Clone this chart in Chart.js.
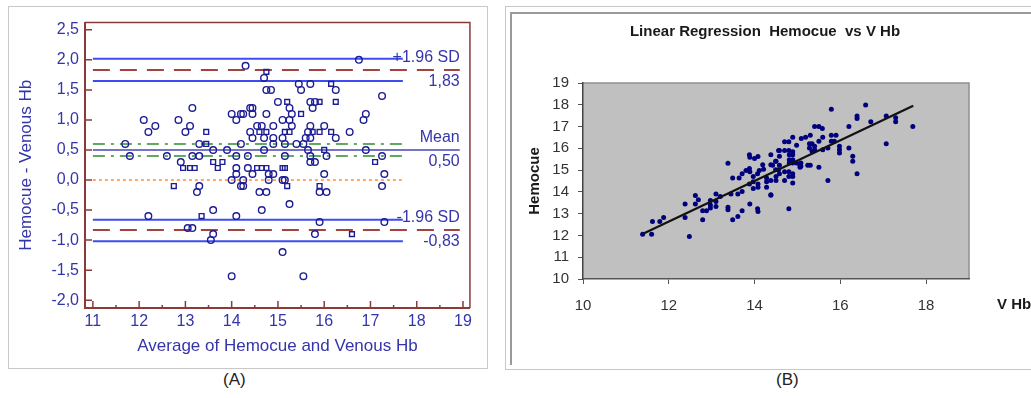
<!DOCTYPE html>
<html>
<head>
<meta charset="utf-8">
<script src="https://cdn.jsdelivr.net/npm/chart.js@4.4.0/dist/chart.umd.min.js"></script>
<style>
body{margin:0;background:#fff;width:1031px;height:398px;overflow:hidden;position:relative;font-family:"Liberation Sans",Arial,sans-serif;}
#boxA{position:absolute;left:8px;top:6px;width:478px;height:361px;border:1px solid #c8c8c8;}
#boxB{position:absolute;left:505px;top:6px;width:560px;height:362px;border:1px solid #c8c8c8;}
#innerB{position:absolute;left:510px;top:12px;width:560px;height:351px;border-left:2px solid #9a9a9a;border-top:2px solid #9a9a9a;}
#wrapA{position:absolute;left:8px;top:7px;}
#wrapB{position:absolute;left:500px;top:14px;}
.cap{position:absolute;top:370px;font-size:17px;color:#222;}
</style>
</head>
<body>
<div id="boxA"></div>
<div id="boxB"></div>
<div id="innerB"></div>
<div id="wrapA"><canvas id="chart-a" width="468" height="361"></canvas></div>
<div id="wrapB"><canvas id="chart-b" width="531" height="348"></canvas></div>
<div class="cap" style="left:223px">(A)</div>
<div class="cap" style="left:776px">(B)</div>
<script>
// (A) Bland-Altman: difference vs average

var baCircleX = [
	13.15, 12.10, 12.35, 12.20, 12.85, 13.10, 13.00, 14.00, 14.10, 14.20,
	11.70, 13.30, 14.20, 13.60, 13.90, 11.80, 12.60, 13.15, 13.30, 14.10,
	12.90, 14.10, 14.10, 14.00, 14.20, 13.30, 13.25, 13.60, 12.20, 14.10,
	13.05, 13.15, 13.60, 13.55, 14.00,
	14.30, 16.75, 14.70, 14.75, 14.85, 15.45, 15.70, 15.50, 16.25, 17.25,
	15.00, 15.25, 15.70, 15.80, 15.75, 14.40, 14.45, 14.25, 14.45, 14.75,
	15.30, 16.90, 16.85, 15.10, 15.25, 14.55, 14.65, 14.90, 15.30, 15.70,
	16.00, 14.40, 15.65, 16.55, 14.45, 14.70, 14.90, 15.10, 15.60, 15.70,
	16.25, 14.90, 15.15, 15.40, 15.55, 14.70, 15.65, 16.90, 14.35, 15.15,
	15.70, 16.05, 17.25, 15.70, 15.80, 14.35, 14.45, 14.80, 14.90, 16.00,
	17.30, 14.25, 14.25, 14.80, 15.10, 15.15, 15.90, 16.05, 17.25, 14.60,
	14.75, 15.25, 14.65, 15.90, 17.30, 15.80, 15.10, 15.55
];
var baCircleY = [
	1.2, 1.0, 0.9, 0.8, 1.0, 0.9, 0.8, 1.1, 1.0, 1.1,
	0.6, 0.6, 0.6, 0.5, 0.5, 0.4, 0.4, 0.4, 0.4, 0.4,
	0.3, 0.2, 0.1, 0.0, -0.1, -0.1, -0.2, -0.5, -0.6, -0.6,
	-0.8, -0.8, -0.9, -1.0, -1.6,
	1.9, 2.0, 1.7, 1.5, 1.5, 1.6, 1.6, 1.5, 1.5, 1.4,
	1.3, 1.2, 1.3, 1.3, 1.2, 1.2, 1.2, 1.1, 1.1, 1.1,
	1.1, 1.1, 1.0, 1.0, 1.0, 0.9, 0.9, 0.9, 0.9, 0.9,
	0.9, 0.8, 0.8, 0.8, 0.7, 0.7, 0.7, 0.7, 0.7, 0.7,
	0.7, 0.6, 0.6, 0.6, 0.6, 0.5, 0.5, 0.5, 0.4, 0.4,
	0.4, 0.4, 0.4, 0.3, 0.3, 0.2, 0.1, 0.1, 0.1, 0.1,
	0.1, 0.0, -0.1, 0.0, 0.0, 0.0, -0.2, -0.2, -0.1, -0.2,
	-0.2, -0.4, -0.5, -0.7, -0.7, -0.9, -1.2, -1.6
];

var baSquareX = [
	13.45, 13.45, 12.95, 13.10, 13.20, 13.60, 13.80, 13.70, 12.75, 13.35,
	14.75, 16.15, 15.20, 15.90, 16.25, 15.50, 14.60, 14.75, 15.15, 15.25,
	15.75, 15.90, 16.15, 16.00, 17.10, 14.55, 14.65, 14.75, 15.10, 15.15,
	15.20, 15.90, 16.60
];
var baSquareY = [
	0.8, 0.6, 0.2, 0.2, 0.2, 0.3, 0.3, 0.2, -0.1, -0.6,
	1.8, 1.6, 1.3, 1.3, 1.3, 1.1, 0.8, 0.8, 0.8, 0.8,
	0.8, 0.8, 0.8, 0.5, 0.3, 0.2, 0.2, 0.2, 0.2, 0.2,
	-0.1, -0.1, -0.9
];

var baXTicks = [11, 12, 13, 14, 15, 16, 17, 18, 19];
var baYTicks = [-2, -1.5, -1, -0.5, 0, 0.5, 1, 1.5, 2, 2.5];
var baYTickLabels = ['-2,0', '-1,5', '-1,0', '-0,5', '0,0', '0,5', '1,0', '1,5', '2,0', '2,5'];

var baLimitNames = ['+1.96 SD', 'Mean', '-1.96 SD'];
var baLimitValues = [1.83, 0.50, -0.83];
var baLimitLabels = ['1,83', '0,50', '-0,83'];
var baUpperCI = [1.65, 2.02];
var baMeanCI = [0.40, 0.60];
var baLowerCI = [-1.02, -0.66];
var baZero = 0;

// (B) Linear regression

var lrX = [
	11.39, 11.60, 11.62, 11.79, 11.88, 12.48, 12.38, 12.38, 12.62, 12.62,
	12.69, 12.79, 12.88, 12.79, 12.97, 12.97, 12.97, 13.10, 13.10, 13.10,
	13.20, 13.38, 13.38, 13.38, 13.45, 13.49, 13.49, 13.61, 13.61, 13.64,
	13.71, 13.71, 13.71, 13.80, 13.88, 13.89, 13.88, 13.89, 14.00, 14.08,
	13.88, 13.97, 13.97, 13.89, 13.97, 14.07, 14.11, 14.08, 14.08, 14.07,
	14.08, 14.19, 14.21, 14.28, 14.28, 14.28, 14.38, 14.38, 14.38, 14.50,
	14.50, 14.50, 14.56, 14.56, 15.79, 16.59, 16.39, 16.39, 16.71, 17.07,
	17.29, 17.29, 17.69, 17.07, 16.20, 15.40, 15.50, 15.58, 15.79, 15.90,
	15.59, 15.30, 15.19, 15.09, 14.89, 14.70, 14.80, 14.98, 15.28, 15.34,
	15.40, 15.50, 15.79, 15.86, 15.98, 15.98, 15.98, 16.20, 16.29, 16.29,
	16.39, 15.71, 15.50, 15.24, 15.30, 15.08, 15.08, 15.28, 15.40, 15.34,
	15.59, 15.71, 14.58, 14.70, 14.80, 14.89, 14.81, 14.89, 14.81, 14.89,
	14.81, 14.89, 14.58, 14.49, 14.58, 14.42, 14.49, 14.58, 14.70, 14.80,
	14.89, 14.80, 14.89, 14.98, 15.06, 15.06, 14.89, 14.70, 14.38, 14.38,
	14.80
];
var lrY = [
	12.06, 12.06, 12.64, 12.64, 12.82, 11.95, 13.44, 12.82, 13.83, 13.44,
	13.64, 13.13, 13.13, 12.72, 13.60, 13.40, 13.26, 13.90, 13.56, 13.33,
	13.79, 15.31, 13.29, 13.18, 13.90, 14.64, 12.72, 13.90, 12.87, 14.64,
	14.83, 14.02, 13.13, 14.98, 15.07, 14.92, 15.71, 15.59, 15.53, 15.62,
	14.36, 14.46, 14.15, 13.44, 14.71, 14.83, 14.98, 14.36, 14.21, 13.23,
	13.10, 15.25, 15.04, 14.64, 14.46, 14.21, 15.71, 15.25, 13.87, 15.41,
	14.71, 14.52, 15.90, 15.02, 17.79, 17.99, 17.48, 17.37, 17.22, 17.48,
	17.41, 17.22, 17.00, 16.21, 17.00, 17.00, 17.00, 16.91, 16.60, 16.60,
	16.51, 16.60, 16.51, 16.45, 16.51, 16.30, 16.30, 16.14, 16.21, 16.21,
	16.10, 16.33, 16.33, 16.33, 16.10, 15.94, 15.79, 16.02, 15.64, 15.41,
	14.83, 14.52, 15.13, 15.22, 15.22, 15.33, 15.18, 16.02, 15.94, 15.87,
	15.94, 16.02, 15.90, 15.90, 15.90, 15.84, 15.71, 15.71, 15.48, 15.48,
	15.33, 15.33, 15.64, 15.41, 15.22, 15.22, 15.02, 14.83, 14.92, 14.92,
	14.83, 14.71, 14.71, 15.33, 15.22, 15.13, 14.41, 14.52, 14.52, 13.84,
	13.23
];
var lrFitX = [11.4, 17.7];
var lrFitY = [12.08, 17.95];
var lrXTicks = [10, 12, 14, 16, 18];
var lrYTicks = [10, 11, 12, 13, 14, 15, 16, 17, 18, 19];

var fontFam = '"Liberation Sans", Arial, sans-serif';
var baText = '#3535aa';
var baBrown = '#8b3a3a';

function pts(xs, ys) {
	return xs.map(function(x, i) { return {x: x, y: ys[i]}; });
}

function hline(y, x0, x1, color, width, dash) {
	return {
		data: [{x: x0, y: y}, {x: x1, y: y}],
		showLine: true,
		borderColor: color,
		borderWidth: width,
		borderDash: dash || [],
		pointRadius: 0,
		fill: false
	};
}

var baStart = 11, baShortEnd = 17.7, baLongEnd = 18.93;

var baPlugin = {
	id: 'baFrame',
	afterDraw: function(chart) {
		var ctx = chart.ctx, a = chart.chartArea;
		var xs = chart.scales.x, ys = chart.scales.y;
		ctx.save();
		ctx.strokeStyle = baBrown;
		ctx.lineWidth = 1.5;
		ctx.beginPath();
		ctx.moveTo(a.left, a.top);
		ctx.lineTo(a.right, a.top);
		ctx.lineTo(a.right, a.bottom);
		ctx.stroke();
		ctx.beginPath();
		baXTicks.forEach(function(v, i) {
			var px = xs.getPixelForValue(v);
			ctx.moveTo(px, a.bottom);
			ctx.lineTo(px, a.bottom - 7);
			if (i < baXTicks.length - 1) {
				var m = xs.getPixelForValue(v + 0.5);
				ctx.moveTo(m, a.bottom);
				ctx.lineTo(m, a.bottom - 3);
			}
		});
		baYTicks.forEach(function(v) {
			var py = ys.getPixelForValue(v);
			ctx.moveTo(a.left, py);
			ctx.lineTo(a.left + 7, py);
		});
		ctx.stroke();

		ctx.fillStyle = baText;
		ctx.font = '16px ' + fontFam;
		ctx.textAlign = 'right';
		ctx.textBaseline = 'middle';
		var rx = xs.getPixelForValue(baLongEnd);
		baLimitValues.forEach(function(v, i) {
			var py = ys.getPixelForValue(v);
			ctx.fillText(baLimitNames[i], rx, py - 12);
			ctx.fillText(baLimitLabels[i], rx, py + 12);
		});
		ctx.restore();
	}
};

window.addEventListener('load', function() {
	var ctxA = document.getElementById('chart-a').getContext('2d');
	new Chart(ctxA, {
		type: 'scatter',
		data: {
			datasets: [
				{
					data: pts(baCircleX, baCircleY),
					pointStyle: 'circle',
					pointRadius: 3.3,
					pointBorderWidth: 1.4,
					borderColor: '#1c1c96',
					backgroundColor: 'rgba(255,255,255,0)'
				},
				{
					data: pts(baSquareX, baSquareY),
					pointStyle: 'rect',
					pointRadius: 3.4,
					pointBorderWidth: 1.4,
					borderColor: '#1c1c96',
					backgroundColor: 'rgba(255,255,255,0)'
				},
				hline(baUpperCI[1], baStart, baShortEnd, '#3d4df2', 2),
				hline(baLimitValues[0], baStart, baLongEnd, '#a2433f', 2, [17, 10]),
				hline(baUpperCI[0], baStart, baShortEnd, '#3d4df2', 2),
				hline(baMeanCI[1], baStart, baShortEnd, '#2f8a2f', 1.5, [12, 6, 3, 6]),
				hline(baLimitValues[1], baStart, baLongEnd, '#4747b5', 1.5),
				hline(baMeanCI[0], baStart, baShortEnd, '#2f8a2f', 1.5, [12, 6, 3, 6]),
				hline(baZero, baStart, baShortEnd, '#ff8a3d', 1.5, [3, 3]),
				hline(baLowerCI[1], baStart, baShortEnd, '#3d4df2', 2),
				hline(baLimitValues[2], baStart, baLongEnd, '#a2433f', 2, [17, 10]),
				hline(baLowerCI[0], baStart, baShortEnd, '#3d4df2', 2)
			]
		},
		options: {
			responsive: false,
			animation: false,
			layout: {padding: {top: 14, right: 4, left: 0, bottom: 0}},
			plugins: {legend: {display: false}, tooltip: {enabled: false}},
			scales: {
				x: {
					type: 'linear',
					min: 10.83,
					max: 19.15,
					afterBuildTicks: function(s) { s.ticks = baXTicks.map(function(v) { return {value: v}; }); },
					afterFit: function(s) { s.height = 60; },
					grid: {display: false, tickLength: 0},
					border: {display: true, color: baBrown, width: 2},
					ticks: {color: baText, font: {size: 16, family: fontFam}, padding: 4, maxRotation: 0, autoSkip: false},
					title: {display: true, text: 'Average of Hemocue and Venous Hb', color: baText,
						font: {size: 17, family: fontFam}, padding: {top: 0, bottom: 11}}
				},
				y: {
					type: 'linear',
					min: -2.13,
					max: 2.62,
					afterBuildTicks: function(s) { s.ticks = baYTicks.map(function(v) { return {value: v}; }); },
					afterFit: function(s) { s.width = 77; },
					grid: {display: false, tickLength: 0},
					border: {display: true, color: baBrown, width: 2},
					ticks: {
						color: baText, font: {size: 16, family: fontFam}, padding: 6, autoSkip: false,
						callback: function(v, i) { return baYTickLabels[i]; }
					},
					title: {display: true, text: 'Hemocue - Venous Hb', color: baText,
						font: {size: 17, family: fontFam}, padding: {top: 8, bottom: 0}}
				}
			}
		},
		plugins: [baPlugin]
	});

	var lrPlugin = {
		id: 'lrBack',
		beforeDraw: function(chart) {
			var ctx = chart.ctx, a = chart.chartArea;
			ctx.save();
			ctx.fillStyle = '#c0c0c0';
			ctx.fillRect(a.left, a.top, a.right - a.left, a.bottom - a.top);
			ctx.strokeStyle = '#8e8e8e';
			ctx.lineWidth = 1.5;
			ctx.beginPath();
			ctx.moveTo(a.left, a.top);
			ctx.lineTo(a.right, a.top);
			ctx.lineTo(a.right, a.bottom);
			ctx.stroke();
			ctx.restore();
		},
		afterDraw: function(chart) {
			var ctx = chart.ctx, xs = chart.scales.x;
			ctx.save();
			ctx.fillStyle = '#1a1a1a';
			ctx.font = 'bold 15px ' + fontFam;
			ctx.textBaseline = 'middle';
			ctx.textAlign = 'center';
			ctx.fillText('Linear Regression  Hemocue  vs V Hb', 265, 18);
			ctx.textAlign = 'left';
			ctx.fillText('V Hb', 497, xs.top + 26);
			ctx.restore();
		}
	};

	var ctxB = document.getElementById('chart-b').getContext('2d');
	new Chart(ctxB, {
		type: 'scatter',
		data: {
			datasets: [
				{
					data: pts(lrFitX, lrFitY),
					showLine: true,
					borderColor: '#111',
					borderWidth: 2.2,
					pointRadius: 0
				},
				{
					data: pts(lrX, lrY),
					pointRadius: 2.5,
					pointBorderWidth: 0,
					backgroundColor: '#00007f',
					borderColor: '#00007f'
				}
			]
		},
		options: {
			responsive: false,
			animation: false,
			layout: {padding: {top: 69, right: 62, left: 0, bottom: 0}},
			plugins: {
				legend: {display: false},
				tooltip: {enabled: false}
			},
			scales: {
				x: {
					type: 'linear',
					min: 10,
					max: 19,
					afterBuildTicks: function(s) { s.ticks = lrXTicks.map(function(v) { return {value: v}; }); },
					afterFit: function(s) { s.height = 83; },
					grid: {display: true, drawOnChartArea: false, drawTicks: true, tickLength: 5, color: '#555'},
					border: {display: true, color: '#555', width: 1.5},
					ticks: {color: '#333', font: {size: 15, family: fontFam}, padding: 13, maxRotation: 0, autoSkip: false}
				},
				y: {
					type: 'linear',
					min: 10,
					max: 19,
					afterBuildTicks: function(s) { s.ticks = lrYTicks.map(function(v) { return {value: v}; }); },
					afterFit: function(s) { s.width = 83; },
					grid: {display: true, drawOnChartArea: false, drawTicks: true, tickLength: 5, color: '#555'},
					border: {display: true, color: '#444', width: 1.5},
					ticks: {color: '#333', font: {size: 15, family: fontFam}, padding: 9, autoSkip: false},
					title: {display: true, text: 'Hemocue', color: '#1a1a1a',
						font: {size: 15, weight: 'bold', family: fontFam}, padding: {top: 26, bottom: 0}}
				}
			}
		},
		plugins: [lrPlugin]
	});
});
</script>
</body>
</html>
